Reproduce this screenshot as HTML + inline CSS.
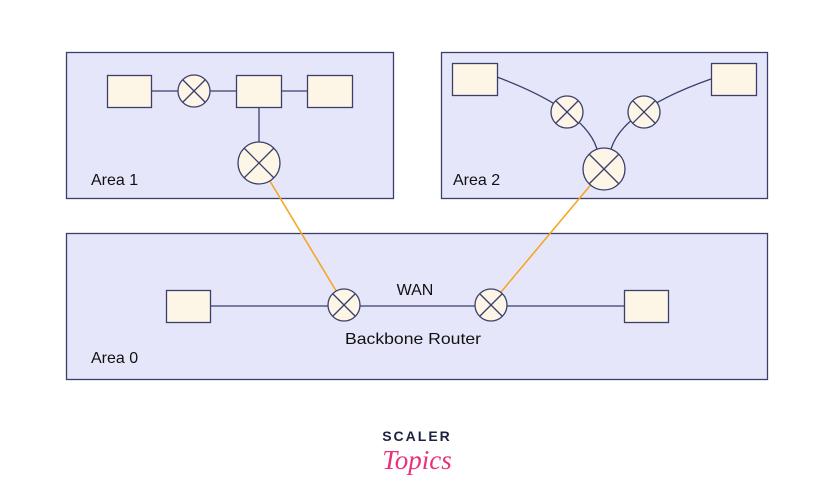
<!DOCTYPE html>
<html><head><style>
html,body{margin:0;padding:0;background:#fff;}
svg{display:block;}
text{font-family:"Liberation Sans",sans-serif;fill:#111;}
</style></head><body>
<svg width="819" height="486" viewBox="0 0 819 486" xmlns="http://www.w3.org/2000/svg">
<g stroke="#3b3f6b" stroke-width="1.3" fill="#e6e6fb">
<rect x="66.5" y="52.5" width="327" height="146"/>
<rect x="441.5" y="52.5" width="326" height="146"/>
<rect x="66.5" y="233.5" width="701" height="146"/>
</g>
<g stroke="#f5a623" stroke-width="1.6">
<line x1="259" y1="163" x2="344" y2="304"/>
<line x1="604" y1="169" x2="491" y2="304"/>
</g>
<g stroke="#3b3f6b" stroke-width="1.3" fill="none">
<line x1="151" y1="91" x2="307" y2="91"/>
<line x1="259" y1="107" x2="259" y2="145"/>
<line x1="210" y1="306" x2="624" y2="306"/>
<path d="M497,77 Q585,110 597,149"/>
<path d="M711,79 Q623,110 611,149"/>
</g>
<g stroke="#3b3f6b" stroke-width="1.3" fill="#fdf5e6">
<rect x="107.5" y="75.5" width="44" height="32"/>
<rect x="236.5" y="75.5" width="45" height="32"/>
<rect x="307.5" y="75.5" width="45" height="32"/>
<rect x="452.5" y="63.5" width="45" height="32"/>
<rect x="711.5" y="63.5" width="45" height="32"/>
<rect x="166.5" y="290.5" width="44" height="32"/>
<rect x="624.5" y="290.5" width="44" height="32"/>
<circle cx="194" cy="91" r="16"/>
<circle cx="259" cy="163" r="21"/>
<circle cx="567" cy="112" r="16"/>
<circle cx="644" cy="112" r="16"/>
<circle cx="604" cy="169" r="21"/>
<circle cx="344" cy="305" r="16"/>
<circle cx="491" cy="305" r="16"/>
</g>
<g stroke="#3b3f6b" stroke-width="1.3">
<line x1="183" y1="80" x2="205" y2="102"/><line x1="205" y1="80" x2="183" y2="102"/>
<line x1="244" y1="148" x2="274" y2="178"/><line x1="274" y1="148" x2="244" y2="178"/>
<line x1="556" y1="101" x2="578" y2="123"/><line x1="578" y1="101" x2="556" y2="123"/>
<line x1="633" y1="101" x2="655" y2="123"/><line x1="655" y1="101" x2="633" y2="123"/>
<line x1="589" y1="154" x2="619" y2="184"/><line x1="619" y1="154" x2="589" y2="184"/>
<line x1="333" y1="294" x2="355" y2="316"/><line x1="355" y1="294" x2="333" y2="316"/>
<line x1="480" y1="294" x2="502" y2="316"/><line x1="502" y1="294" x2="480" y2="316"/>
</g>
<g font-size="16">
<text x="91" y="185">Area 1</text>
<text x="453" y="185">Area 2</text>
<text x="91" y="363">Area 0</text>
<text x="415" y="295" text-anchor="middle">WAN</text>
<text x="345" y="344" textLength="136" lengthAdjust="spacingAndGlyphs">Backbone Router</text>
</g>
<text x="417" y="441" text-anchor="middle" font-size="14" font-weight="bold" letter-spacing="2" style="fill:#1c2340">SCALER</text>
<text x="417" y="469" text-anchor="middle" font-size="27" font-style="italic" style="fill:#e8317a;font-family:'Liberation Serif',serif">Topics</text>
</svg>
</body></html>
